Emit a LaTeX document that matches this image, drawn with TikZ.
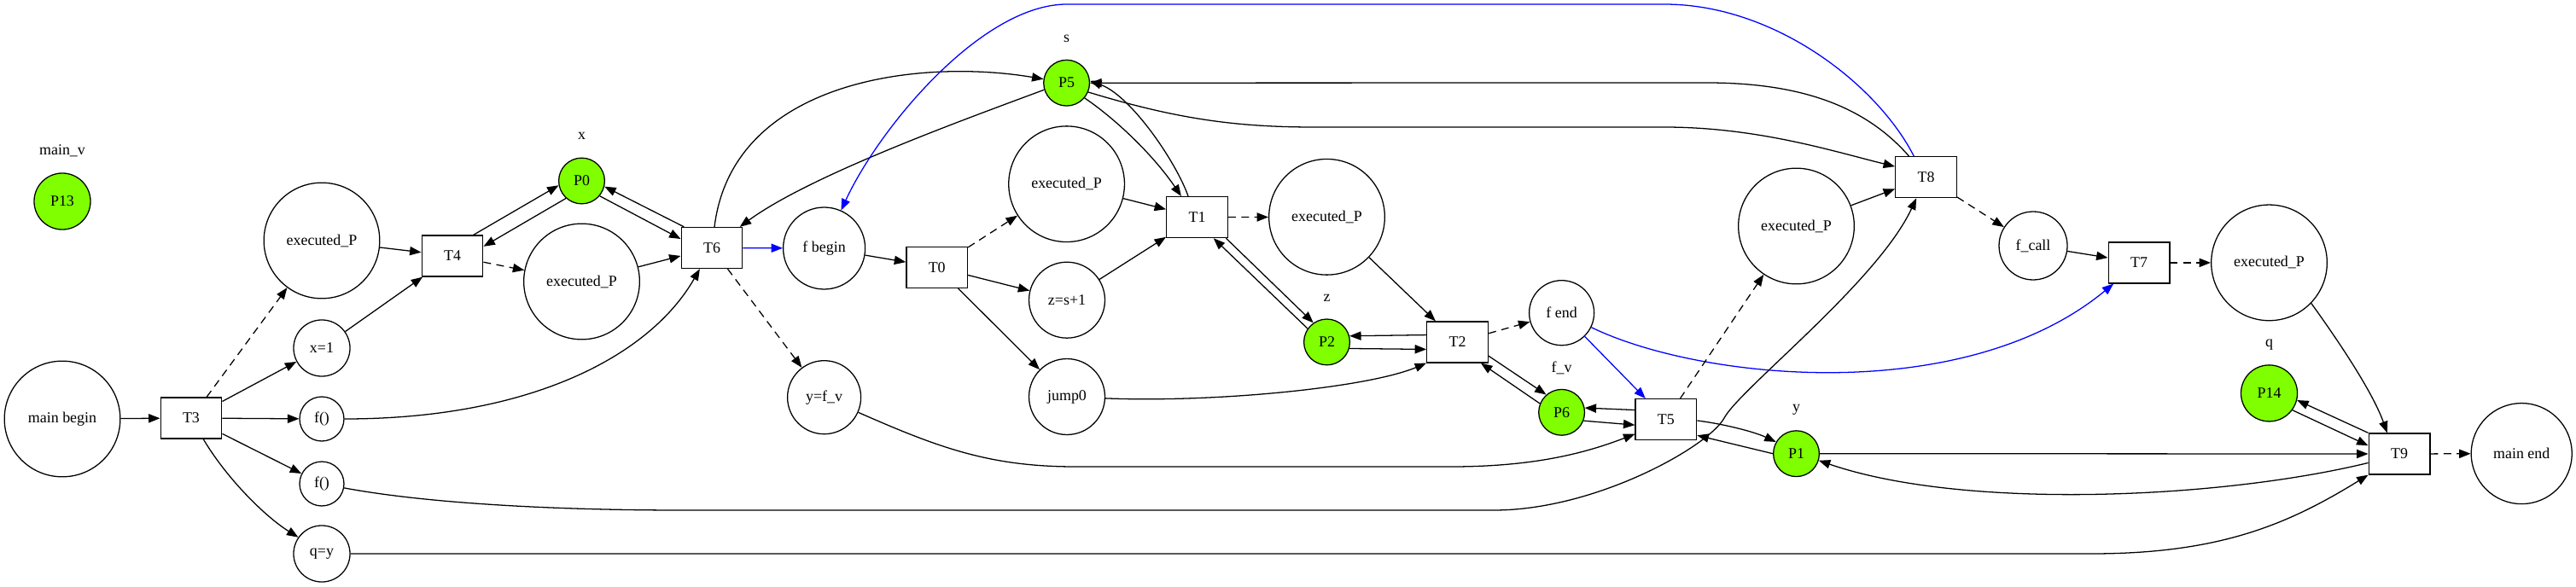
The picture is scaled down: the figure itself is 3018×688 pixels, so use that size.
\documentclass[tikz,border=0pt]{standalone}
\usepackage{fontspec}
\setmainfont{Liberation Serif}
\usetikzlibrary{arrows.meta}
\definecolor{tokengreen}{RGB}{127,255,0}
\tikzstyle{placenode} = [circle, draw=black, inner sep=0pt, minimum size=106pt]
\tikzstyle{marked} = [placenode, fill=tokengreen, minimum size=42pt]
\tikzstyle{transbox} = [rectangle, draw=black, inner sep=0pt, minimum width=56pt, minimum height=37.5pt]
\tikzstyle{varname} = [inner sep=0pt]
\tikzstyle{arrow} = [->, >={Triangle[length=10.5pt, width=8pt]}]
\tikzstyle{dasharrow} = [arrow, dash pattern=on 7pt off 5pt]
\tikzstyle{callarrow} = [arrow, blue]

\begin{document}
\begin{tikzpicture}[x=0.78125pt, y=-0.78125pt, line width=1pt, font=\fontsize{14pt}{16pt}\selectfont]
\useasboundingbox (0,0) rectangle (3018,688);

% main
\node (lblmainv) [varname] at (73,177) {main\_v};
\node (P13) [marked, minimum size=51.6pt] at (73,236) {P13};
\node (mb) [placenode] at (73,491) {main begin};
\node (T3) [transbox] at (224,490) {T3};

\node (ep1) [placenode] at (377,282) {executed\_P};
\node (x1) [placenode, minimum size=51.6pt] at (377,408) {x=1};
\node (f1) [placenode, minimum size=40.6pt] at (377,491) {f()};
\node (f2) [placenode, minimum size=40.6pt] at (377,567) {f()};
\node (qy) [placenode, minimum size=51.6pt] at (377,649) {q=y};

\node (T4) [transbox] at (530,300) {T4};
\node (lblx) [varname] at (681.5,159) {x};
\node (P0) [marked] at (681.5,212) {P0};
\node (ep2) [placenode] at (681.5,330) {executed\_P};
\node (T6) [transbox] at (834,290.5) {T6};

% f
\node (fb) [placenode, minimum size=75pt] at (965.6,291) {f begin};
\node (yfv) [placenode, minimum size=67.2pt] at (965.6,465.7) {y=f\_v};
\node (T0) [transbox] at (1097.7,313.3) {T0};
\node (lbls) [varname] at (1249.6,45.6) {s};
\node (P5) [marked] at (1249.6,97.2) {P5};
\node (ep3) [placenode] at (1249.6,215.7) {executed\_P};
\node (zs) [placenode, minimum size=69.5pt] at (1250,351.7) {z=s+1};
\node (j0) [placenode, minimum size=69.5pt] at (1250,465) {jump0};
\node (T1) [transbox] at (1402.5,254.6) {T1};
\node (ep4) [placenode] at (1554.5,254.3) {executed\_P};
\node (lblz) [varname] at (1554.5,349) {z};
\node (P2) [marked] at (1554.5,400.9) {P2};
\node (T2) [transbox] at (1707.6,401) {T2};
\node (fe) [placenode, minimum size=59.4pt] at (1829.6,366.7) {f end};
\node (lblfv) [varname] at (1829.6,431) {f\_v};
\node (P6) [marked] at (1829.6,483.3) {P6};
\node (T5) [transbox] at (1951.9,491.7) {T5};

% back in main
\node (ep5) [placenode] at (2104.5,265) {executed\_P};
\node (lbly) [varname] at (2104.5,480) {y};
\node (P1) [marked] at (2104.5,531.7) {P1};
\node (T8) [transbox] at (2256.5,207.7) {T8};
\node (fcall) [placenode, minimum size=62.5pt] at (2382,288) {f\_call};
\node (T7) [transbox] at (2506,307.9) {T7};
\node (ep6) [placenode] at (2658.5,307.9) {executed\_P};
\node (lblq) [varname] at (2658.5,404) {q};
\node (P14) [marked, minimum size=51.6pt] at (2658.5,460.9) {P14};
\node (T9) [transbox] at (2811,532) {T9};
\node (me) [placenode, minimum size=92.2pt] at (2954.2,531.6) {main end};

\draw [arrow] (mb) -- (T3);
\draw [arrow] (T3) -- (x1);
\draw [arrow] (T3) -- (f1);
\draw [arrow] (T3) -- (f2);
\draw [arrow] (T3.-60) .. controls (265,560) and (310,605) .. (qy.145);
\draw [dasharrow] (T3) -- (ep1);

\draw [arrow] (ep1) -- (T4);
\draw [arrow] (x1) -- (T4);
\draw [arrow] (T4.45) -- (P0.191);
\draw [arrow] (P0.228) -- (T4.17);
\draw [dasharrow] (T4) -- (ep2);

\draw [arrow] (ep2) -- (T6);
\draw [arrow] (P0.-40) -- (T6.164);
\draw [arrow] (T6.143) -- (P0.-14);
\draw [arrow] (f1) .. controls (620,491) and (761,418) .. (T6);
\draw [arrow] (T6) .. controls (858,95) and (1075,68) .. (P5);
\draw [arrow] (P5.197) .. controls (1130,140) and (950,205) .. (T6.37);
\draw [callarrow] (T6) -- (fb);
\draw [dasharrow] (T6) -- (yfv);

\draw [arrow] (fb) -- (T0);
\draw [dasharrow] (T0) -- (ep3);
\draw [arrow] (T0) -- (zs);
\draw [arrow] (T0) -- (j0);

\draw [arrow] (ep3) -- (T1);
\draw [arrow] (zs) -- (T1);
\draw [arrow] (P5.-40) .. controls (1305,138) and (1350,180) .. (T1.127);
\draw [arrow] (T1.113) .. controls (1378,190) and (1325,112) .. (P5.5);
\draw [dasharrow] (T1) -- (ep4);
\draw [arrow] (T1.-36) -- (P2.125);
\draw [arrow] (P2.145) -- (T1.-52);

\draw [arrow] (ep4) -- (T2);
\draw [arrow] (j0) .. controls (1420,472) and (1600,455) .. (T2.south west);
\draw [arrow] (T2.167) -- (P2.15);
\draw [arrow] (P2.-16) -- (T2.193);
\draw [dasharrow] (T2) -- (fe);
\draw [arrow] (T2.-24) -- (P6.131);
\draw [arrow] (P6.158) -- (T2.-42);

\draw [callarrow] (fe) -- (T5);
\draw [callarrow] (fe) .. controls (1990,445) and (2300,478) .. (T7);
\draw [arrow] (T5.163) -- (P6.11);
\draw [arrow] (P6.-21) -- (T5.190);
\draw [arrow] (yfv) .. controls (1100,525) and (1160,547) .. (1260,547) -- (1700,547) .. controls (1800,547) and (1860,530) .. (T5.205);
\draw [dasharrow] (T5) -- (ep5);
\draw [arrow] (T5.-2) .. controls (2020,497) and (2055,506) .. (P1.150);
\draw [arrow] (P1.180) -- (T5.-27);

\draw [arrow] (f2) .. controls (500,590) and (650,598) .. (800,598) -- (1750,598) .. controls (1870,598) and (2002,523) .. (2020,490) .. controls (2038,456) and (2200,330) .. (T8);
\draw [arrow] (ep5) -- (T8);
\draw [arrow] (P5.-23) .. controls (1380,140) and (1450,149) .. (1540,149) -- (1950,149) .. controls (2060,149) and (2150,178) .. (T8.161);
\draw [arrow] (T8.129) .. controls (2190,130) and (2120,97) .. (2000,97) -- (P5);
\draw [callarrow] (T8.120) .. controls (2200,100) and (2080,5) .. (1950,5) -- (1250,5) .. controls (1150,5) and (1030,150) .. (fb.66);
\draw [dasharrow] (T8) -- (fcall);

\draw [arrow] (fcall) -- (T7);
\draw [dasharrow] (T7) -- (ep6);
\draw [arrow] (ep6.-44) .. controls (2740,400) and (2780,460) .. (T9.120);
\draw [arrow] (P14.-36) -- (T9.165);
\draw [arrow] (T9.north west) -- (P14.-14);
\draw [arrow] (P1) -- (T9);
\draw [arrow] (T9.196) .. controls (2600,585) and (2300,598) .. (P1.-17);
\draw [arrow] (qy) -- (2450,649) .. controls (2600,649) and (2680,615) .. (T9.south west);
\draw [dasharrow] (T9) -- (me);

\end{tikzpicture}
\end{document}
